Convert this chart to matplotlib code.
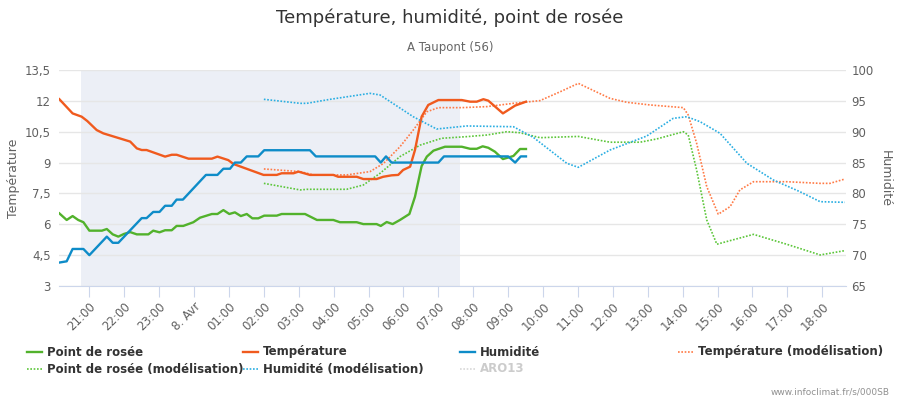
import matplotlib
matplotlib.use("Agg")
import matplotlib.pyplot as plt
from matplotlib.lines import Line2D

# hours relative to 8 Apr 00:00 (negative = evening of 7 Apr)
temp_t = [-3.86, -3.48, -3.22, -3.06, -2.79, -2.6, -1.83, -1.64, -1.5, -1.36, -0.83, -0.64,
          -0.5, -0.16, 0.51, 0.67, 0.98, 1.13, 1.99, 2.37, 2.51, 2.85, 2.99, 3.32, 3.99, 4.13,
          4.66, 4.85, 5.23, 5.42, 5.66, 5.85, 5.99, 6.19, 6.33, 6.52, 6.71, 7.0, 7.67, 7.91,
          8.1, 8.29, 8.43, 8.85, 9.2, 9.51]
temp_v = [12.08, 11.39, 11.23, 11.02, 10.58, 10.42, 10.02, 9.69, 9.61, 9.61, 9.29, 9.38,
          9.38, 9.19, 9.19, 9.29, 9.12, 8.93, 8.40, 8.40, 8.48, 8.48, 8.56, 8.40, 8.40, 8.31,
          8.31, 8.20, 8.20, 8.31, 8.38, 8.40, 8.64, 8.80, 9.61, 11.23, 11.80, 12.04, 12.04, 11.96,
          11.96, 12.08, 12.01, 11.39, 11.77, 11.96]

dew_t = [-3.86, -3.65, -3.48, -3.32, -3.17, -3.0, -2.64, -2.5, -2.33, -2.17, -2.01, -1.83,
         -1.64, -1.31, -1.17, -0.99, -0.83, -0.64, -0.5, -0.31, -0.02, 0.17, 0.51, 0.67, 0.84,
         1.01, 1.17, 1.34, 1.51, 1.67, 1.84, 2.01, 2.37, 2.51, 3.18, 3.52, 3.99, 4.18, 4.66,
         4.85, 5.23, 5.35, 5.52, 5.69, 5.90, 6.17, 6.33, 6.52, 6.67, 6.86, 7.19, 7.67, 7.91,
         8.1, 8.27, 8.43, 8.62, 8.85, 9.15, 9.34, 9.51]
dew_v = [6.53, 6.21, 6.40, 6.21, 6.10, 5.69, 5.69, 5.77, 5.51, 5.40, 5.53, 5.62,
         5.51, 5.51, 5.69, 5.61, 5.71, 5.71, 5.92, 5.92, 6.10, 6.32, 6.50, 6.50, 6.69,
         6.50, 6.58, 6.40, 6.50, 6.29, 6.29, 6.42, 6.42, 6.50, 6.50, 6.21, 6.21, 6.10, 6.10,
         6.01, 6.01, 5.92, 6.11, 6.01, 6.21, 6.50, 7.34, 8.83, 9.29, 9.58, 9.77, 9.77, 9.67,
         9.67, 9.79, 9.72, 9.53, 9.17, 9.32, 9.66, 9.66]

hum_t = [-3.86, -3.65, -3.48, -3.17, -3.0, -2.5, -2.33, -2.17, -1.5, -1.36, -1.17, -0.99,
         -0.83, -0.64, -0.5, -0.32, 0.34, 0.67, 0.84, 1.03, 1.17, 1.34, 1.51, 1.84, 2.01,
         3.32, 3.49, 5.19, 5.35, 5.50, 5.66, 7.0, 7.16, 9.0, 9.2, 9.36, 9.51]
hum_v = [68.8, 69.0, 71.0, 71.0, 70.0, 73.0, 72.0, 72.0, 76.0, 76.0, 77.0, 77.0,
         78.0, 78.0, 79.0, 79.0, 83.0, 83.0, 84.0, 84.0, 85.0, 85.0, 86.0, 86.0, 87.0,
         87.0, 86.0, 86.0, 85.0, 86.0, 85.0, 85.0, 86.0, 86.0, 85.0, 86.0, 86.0]

temp_mod_t = [2.0, 3.04, 3.42, 4.37, 5.04, 5.43, 5.9, 6.28, 6.67, 7.0, 7.67, 8.39, 9.15,
              9.91, 10.5, 11.01, 11.92, 12.4, 13.07, 14.02, 14.16, 14.40, 14.69, 15.02,
              15.36, 15.64, 16.03, 16.98, 17.94, 18.22, 18.65]
temp_mod_v = [8.69, 8.56, 8.40, 8.40, 8.56, 8.96, 9.77, 10.58, 11.47, 11.67, 11.67, 11.72, 11.88,
              12.01, 12.45, 12.85, 12.12, 11.93, 11.80, 11.67, 11.31, 9.94, 7.83, 6.49,
              6.86, 7.67, 8.07, 8.07, 7.99, 7.99, 8.20]

dew_mod_t = [2.0, 3.04, 3.23, 4.37, 4.85, 5.33, 5.9, 6.48, 7.09, 7.81, 8.39, 8.96, 9.34,
             9.91, 11.01, 11.92, 12.78, 13.26, 14.02, 14.16, 14.40, 14.69, 14.98, 15.26,
             16.03, 16.98, 17.94, 18.65]
dew_mod_v = [7.99, 7.67, 7.70, 7.70, 7.91, 8.48, 9.29, 9.85, 10.18, 10.26, 10.34, 10.50, 10.45,
             10.21, 10.27, 9.99, 9.99, 10.15, 10.50, 10.34, 8.64, 6.21, 5.03, 5.16,
             5.51, 5.03, 4.51, 4.72]

hum_mod_t = [2.0, 3.04, 3.23, 3.9, 5.04, 5.33, 6.28, 6.95, 7.81, 9.15, 9.72, 10.68,
             11.01, 11.92, 12.97, 13.73, 14.12, 14.5, 15.07, 15.84, 16.6, 17.36, 17.94, 18.65]
hum_mod_v = [95.25, 94.6, 94.6, 95.25, 96.22, 95.95, 92.43, 90.44, 90.93, 90.81, 89.09, 84.88,
             84.23, 87.04, 89.3, 92.17, 92.43, 91.62, 89.74, 84.88, 82.17, 80.28, 78.66, 78.56]

night = (-3.25, 7.63)
tick_hours = list(range(-3, 19))
tick_labels = ["21:00", "22:00", "23:00", "8. Avr"] + ["%02d:00" % h for h in range(1, 19)]

green, orange, blue = "#52b22c", "#f05a1e", "#0e8cc8"
green_m, orange_m, blue_m = "#5cc63a", "#ff7a45", "#2aaee2"
grid_c = "#e6e6e6"
txt_c = "#606060"

fig = plt.figure(figsize=(9, 4), dpi=100)
ax = fig.add_axes([59 / 900, 1 - 286 / 400, (846 - 59) / 900, 216 / 400])
ax2 = ax.twinx()

ax.axvspan(night[0], night[1], color="#eceff6", zorder=0, lw=0)

dot = (0, (1, 1))
ax.plot(temp_mod_t, temp_mod_v, color=orange_m, lw=1.2, ls=dot, zorder=3)
ax.plot(dew_mod_t, dew_mod_v, color=green_m, lw=1.2, ls=dot, zorder=3)
ax2.plot(hum_mod_t, hum_mod_v, color=blue_m, lw=1.2, ls=dot, zorder=3)
ax.plot(dew_t, dew_v, color=green, lw=1.7, zorder=4)
ax.plot(temp_t, temp_v, color=orange, lw=1.7, zorder=4)
ax2.plot(hum_t, hum_v, color=blue, lw=1.7, zorder=4)

ax.set_xlim(-3.87, 18.68)
ax.set_ylim(3, 13.5)
ax2.set_ylim(65, 100)
ax.set_yticks([3, 4.5, 6, 7.5, 9, 10.5, 12, 13.5])
ax.set_yticklabels(["3", "4,5", "6", "7,5", "9", "10,5", "12", "13,5"])
ax2.set_yticks(range(65, 101, 5))
ax.set_xticks(tick_hours)
ax.set_xticklabels(tick_labels, rotation=45, ha="right", rotation_mode="anchor")

for y in [3, 4.5, 6, 7.5, 9, 10.5, 12, 13.5]:
    ax.axhline(y, color=grid_c, lw=1, zorder=1)

for a in (ax, ax2):
    for s in a.spines.values():
        s.set_visible(False)
    a.tick_params(axis="y", length=0, labelsize=8.5, labelcolor=txt_c)
ax.spines["bottom"].set_visible(True)
ax.spines["bottom"].set_color("#ccd6eb")
ax.tick_params(axis="x", length=8, color="#ccd6eb", labelsize=8.5, labelcolor=txt_c, pad=2)
ax.tick_params(axis="y", pad=6)
ax2.tick_params(axis="y", pad=4)
ax.set_ylabel("Température", color=txt_c, fontsize=9, labelpad=3)
ax2.set_ylabel("Humidité", color=txt_c, fontsize=9, rotation=270, labelpad=13)

fig.text(0.5, 1 - 18 / 400, "Température, humidité, point de rosée", ha="center", va="center",
         fontsize=13, color="#333333")
fig.text(0.5, 1 - 47 / 400, "A Taupont (56)", ha="center", va="center", fontsize=8.5, color="#666666")

legend_items = [
    ("Point de rosée", green, "-", 27, 352, "#333333"),
    ("Température", orange, "-", 243, 352, "#333333"),
    ("Humidité", blue, "-", 460, 352, "#333333"),
    ("Température (modélisation)", orange_m, dot, 678, 352, "#333333"),
    ("Point de rosée (modélisation)", green_m, dot, 27, 369, "#333333"),
    ("Humidité (modélisation)", blue_m, dot, 243, 369, "#333333"),
    ("ARO13", "#d8d8d8", dot, 460, 369, "#cccccc"),
]
for label, col, ls, x, y, tc in legend_items:
    yy = 1 - y / 400
    fig.add_artist(Line2D([x / 900, (x + 15) / 900], [yy, yy], color=col,
                          lw=1.7 if ls == "-" else 1.2, ls=ls, transform=fig.transFigure))
    fig.text((x + 20) / 900, yy, label, ha="left", va="center", fontsize=8.5,
             fontweight="bold", color=tc)

fig.text(890 / 900, 1 - 392 / 400, "www.infoclimat.fr/s/000SB", ha="right", va="center",
         fontsize=6.5, color="#909090")

fig.savefig("out.png", dpi=100, facecolor="white")
